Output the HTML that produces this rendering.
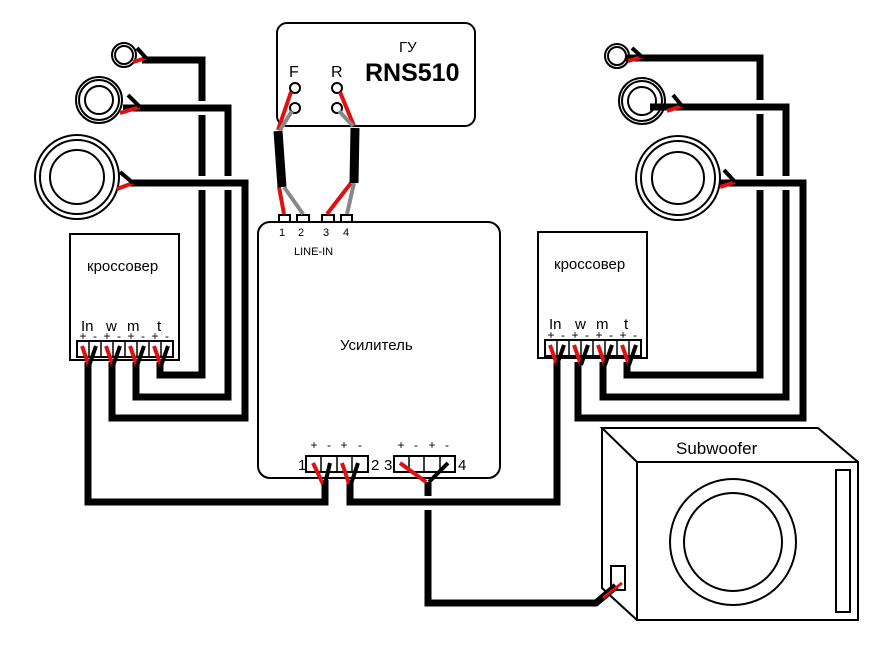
<!DOCTYPE html>
<html><head><meta charset="utf-8"><style>
html,body{margin:0;padding:0;background:#fff;width:884px;height:647px;overflow:hidden}
svg{display:block}
text{font-family:"Liberation Sans","Noto Sans CJK SC",sans-serif;fill:#000}
</style></head><body>
<svg width="884" height="647" viewBox="0 0 884 647" xmlns="http://www.w3.org/2000/svg">
<g fill="none" stroke="#000" stroke-width="2">
<circle cx="124" cy="55" r="12"/><circle cx="124" cy="55" r="9"/>
<circle cx="99" cy="100" r="23"/><circle cx="99" cy="100" r="20"/><circle cx="99" cy="100" r="14"/>
<circle cx="77" cy="177" r="42"/><circle cx="77" cy="177" r="37"/><circle cx="77" cy="177" r="27"/>
<circle cx="617" cy="56" r="12"/><circle cx="617" cy="56" r="9"/>
<circle cx="642" cy="101" r="23"/><circle cx="642" cy="101" r="20"/><circle cx="642" cy="101" r="14"/>
<circle cx="678" cy="178" r="42"/><circle cx="678" cy="178" r="37"/><circle cx="678" cy="178" r="26"/>
<rect x="70" y="234" width="109" height="126"/>
<rect x="538" y="232" width="109" height="126"/>
<rect x="77" y="341" width="96" height="16"/>
<rect x="545" y="340" width="96" height="16"/>
<rect x="277" y="23" width="198" height="103" rx="10"/>
<circle cx="295" cy="88" r="5"/><circle cx="295" cy="108" r="5"/>
<circle cx="337" cy="88" r="5"/><circle cx="337" cy="108" r="5"/>
<rect x="258" y="222" width="242" height="256" rx="12"/>
<rect x="306" y="456" width="62" height="16"/>
<rect x="394" y="456" width="61" height="16"/>
<rect x="279" y="215" width="11" height="7"/><rect x="297" y="215" width="12" height="7"/>
<rect x="322" y="215" width="12" height="7"/><rect x="341" y="215" width="11" height="7"/>
<rect x="637" y="462" width="221" height="158"/>
<path d="M637 462 L602 428 L818 428 L858 462 M602 428 L602 588 L637 620"/>
<circle cx="733" cy="542" r="63"/><circle cx="733" cy="542" r="49"/>
<rect x="836" y="470" width="14" height="142"/>
<rect x="611" y="566" width="14" height="24"/>
</g>
<g stroke="#000" stroke-width="1.5">
<path d="M89 341V357M101 341V357M113 341V357M125 341V357M137 341V357M149 341V357M161 341V357"/>
<path d="M557 340V356M569 340V356M581 340V356M593 340V356M605 340V356M617 340V356M629 340V356"/>
<path d="M321 456V472M337 456V472M352 456V472M409 456V472M424 456V472M440 456V472"/>
</g>
<g fill="none">
<path d="M142 60H202V375H160V362" stroke="#000" stroke-width="7"/>
<path d="M196 108H240" stroke="#fff" stroke-width="14"/>
<path d="M123 108H228V397H136V362" stroke="#000" stroke-width="7"/>
<path d="M196 183H252" stroke="#fff" stroke-width="14"/>
<path d="M130 183H245V418H112V362" stroke="#000" stroke-width="7"/>
<path d="M625 58H760V375H627V362" stroke="#000" stroke-width="7"/>
<path d="M754 107H795" stroke="#fff" stroke-width="14"/>
<path d="M650 107H786V397H603V362" stroke="#000" stroke-width="7"/>
<path d="M754 183H812" stroke="#fff" stroke-width="14"/>
<path d="M720 183H803V418H578V362" stroke="#000" stroke-width="7"/>
<path d="M88 362V502H325V480" stroke="#000" stroke-width="7"/>
<path d="M350 480V502H557V362" stroke="#000" stroke-width="7"/>
<path d="M428 482V496" stroke="#000" stroke-width="7"/>
<path d="M428 510V603H596L616 586" stroke="#000" stroke-width="7"/>
</g>
<g stroke-width="4">
<path d="M133 62L146 58" stroke="#e01010"/><path d="M137 48L146 58" stroke="#000"/>
<path d="M120 113L140 107" stroke="#e01010"/><path d="M128 95L140 107" stroke="#000"/>
<path d="M117 189L133 183" stroke="#e01010"/><path d="M120 172L133 183" stroke="#000"/>
<path d="M628 61L642 57" stroke="#e01010"/><path d="M632 48L642 57" stroke="#000"/>
<path d="M667 111L682 106" stroke="#e01010"/><path d="M673 95L682 106" stroke="#000"/>
<path d="M720 187L735 182" stroke="#e01010"/><path d="M724 170L735 182" stroke="#000"/>
</g>
<g stroke-width="4">
<path d="M82 346L89 366M106 346L113 366M130 346L137 366M154 346L161 366" stroke="#e01010"/>
<path d="M96 346L89 366M120 346L113 366M144 346L137 366M168 346L161 366" stroke="#000"/>
<path d="M550 345L557 365M574 345L581 365M598 345L605 365M622 345L629 365" stroke="#e01010"/>
<path d="M564 345L557 365M588 345L581 365M612 345L605 365M636 345L629 365" stroke="#000"/>
<path d="M313 463L323 484M342 463L349 484M400 463L426 482" stroke="#e01010"/>
<path d="M330 463L325 484M358 463L351 484M448 463L429 482" stroke="#000"/>
<path d="M603 598L622 583" stroke="#e01010" stroke-width="3"/>
</g>
<g stroke-width="4" fill="none">
<path d="M291 92L278 130" stroke="#e01010"/><path d="M292 111L280 130" stroke="#888"/>
<path d="M340 92L354 126" stroke="#e01010"/><path d="M339 111L353 126" stroke="#888"/>
<path d="M279 187L284 214" stroke="#e01010"/><path d="M284 187L303 214" stroke="#888"/>
<path d="M351 183L327 214" stroke="#e01010"/><path d="M354 183L347 214" stroke="#888"/>
</g>
<path d="M278 131L282 187" stroke="#000" stroke-width="9"/>
<path d="M355 128L354 183" stroke="#000" stroke-width="9"/>
<text x="399" y="52" font-size="15">ГУ</text>
<text x="365" y="81" font-size="25" font-weight="bold">RNS510</text>
<text x="289" y="77" font-size="16">F</text>
<text x="331" y="77" font-size="16">R</text>
<g font-size="11" fill="#333">
<text x="279" y="236">1</text><text x="298" y="236">2</text><text x="323" y="236">3</text><text x="343" y="236">4</text>
<text x="294" y="255">LINE-IN</text>
</g>
<text x="87" y="271" font-size="15">кроссовер</text>
<text x="554" y="269" font-size="15">кроссовер</text>
<g font-size="15">
<text x="81" y="331">In</text><text x="106" y="331">w</text><text x="127" y="331">m</text><text x="157" y="331">t</text>
<text x="549" y="329">In</text><text x="575" y="329">w</text><text x="596" y="329">m</text><text x="624" y="329">t</text>
</g>
<g font-size="12" text-anchor="middle">
<text x="83" y="340">+</text><text x="95" y="340">-</text><text x="107" y="340">+</text><text x="119" y="340">-</text>
<text x="131" y="340">+</text><text x="143" y="340">-</text><text x="155" y="340">+</text><text x="167" y="340">-</text>
<text x="551" y="339">+</text><text x="563" y="339">-</text><text x="575" y="339">+</text><text x="587" y="339">-</text>
<text x="599" y="339">+</text><text x="611" y="339">-</text><text x="623" y="339">+</text><text x="635" y="339">-</text>
<text x="314" y="449">+</text><text x="329" y="449">-</text><text x="344" y="449">+</text><text x="360" y="449">-</text>
<text x="401" y="449">+</text><text x="416" y="449">-</text><text x="432" y="449">+</text><text x="447" y="449">-</text>
</g>
<text x="340" y="350" font-size="15">Усилитель</text>
<g font-size="15">
<text x="298" y="470">1</text><text x="371" y="470">2</text><text x="384" y="470">3</text><text x="458" y="470">4</text>
</g>
<text x="676" y="454" font-size="17">Subwoofer</text>
</svg>
</body></html>
